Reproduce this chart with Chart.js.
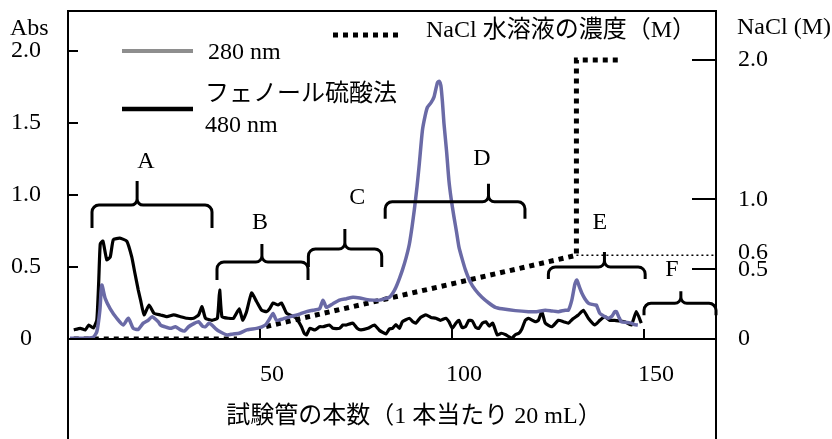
<!DOCTYPE html>
<html>
<head>
<meta charset="utf-8">
<script src="https://cdn.jsdelivr.net/npm/chart.js@4.4.1/dist/chart.umd.min.js"></script>
<style>
  html, body { margin: 0; padding: 0; background: #fff; }
  #wrap { width: 832px; height: 439px; }
</style>
</head>
<body>
<div id="wrap"><canvas id="c" width="832" height="439"></canvas></div>
<script>
// ---------------- DATA ----------------
// Absorbance at 280 nm (tube number, Abs)
const tube280 = [0.5, 3, 6.5, 7.5, 8.3, 8.8, 9.7, 11, 12.7, 14.4, 15.7, 17, 18.3, 19.6, 20.9, 21.9, 23.5, 24.1, 25.2, 26.7, 28, 29.3, 30.3, 31.4, 33, 34, 35, 35.8, 36.7, 37.5, 38.5, 39.6, 41.4, 43, 44.6, 46.6, 49.1, 50.5, 51.5, 52.6, 53.4, 54.3, 56, 58.6, 60.5, 62.1, 63.8, 65.5, 66.4, 67.3, 69, 70.7, 72.5, 74.2, 76, 77.6, 79.5, 81.1, 82.5, 83.7, 84.6, 85.4, 86.3, 87.1, 88, 88.9, 89.6, 90.2, 90.9, 91.5, 92.3, 93, 93.6, 94.5, 95.3, 96.2, 96.7, 97.1, 97.5, 97.9, 98.6, 99.2, 99.8, 100.5, 101.2, 101.8, 102.6, 103.5, 104.7, 106.1, 107.8, 109.6, 111.3, 113, 116.5, 119.9, 122, 124.3, 126, 127.7, 129.5, 130.3, 131.2, 132, 132.5, 133.2, 133.8, 134.6, 135.5, 136.5, 137.2, 137.6, 138.5, 139.5, 140.7, 141.7, 142.4, 142.8, 143.5, 144.1, 145.5, 146.7, 147.5, 148.4];
const abs280 = [0.005, 0.005, 0.012, 0.05, 0.2, 0.375, 0.28, 0.21, 0.144, 0.097, 0.144, 0.074, 0.067, 0.11, 0.13, 0.155, 0.12, 0.097, 0.085, 0.074, 0.085, 0.063, 0.055, 0.085, 0.11, 0.12, 0.09, 0.085, 0.11, 0.097, 0.07, 0.05, 0.028, 0.035, 0.04, 0.063, 0.074, 0.085, 0.1, 0.144, 0.178, 0.13, 0.14, 0.16, 0.175, 0.19, 0.2, 0.21, 0.27, 0.22, 0.245, 0.27, 0.28, 0.29, 0.285, 0.275, 0.27, 0.27, 0.28, 0.29, 0.32, 0.36, 0.42, 0.48, 0.56, 0.66, 0.78, 0.9, 1.06, 1.22, 1.45, 1.55, 1.61, 1.64, 1.68, 1.78, 1.79, 1.76, 1.65, 1.5, 1.3, 1.1, 0.97, 0.85, 0.74, 0.64, 0.56, 0.48, 0.4, 0.34, 0.29, 0.25, 0.22, 0.21, 0.197, 0.19, 0.19, 0.2, 0.195, 0.19, 0.2, 0.2, 0.27, 0.38, 0.41, 0.36, 0.32, 0.28, 0.25, 0.24, 0.236, 0.236, 0.178, 0.16, 0.144, 0.16, 0.19, 0.19, 0.15, 0.12, 0.115, 0.11, 0.1, 0.097];

// Phenol-sulfuric acid method, 480 nm (tube number, Abs)
const tube480 = [1.5, 3.2, 4.5, 5.4, 6.6, 7.5, 8, 8.4, 9.1, 10.1, 11, 11.8, 13.5, 15.3, 16.6, 17.4, 18.3, 18.9, 19.8, 21.1, 22.4, 24.1, 25.8, 27.5, 29.3, 31, 32.7, 34, 34.9, 35.8, 37.5, 38.9, 39.5, 40.1, 41.8, 43.1, 44.6, 45.5, 46.5, 47.8, 49.1, 50.4, 51.7, 52.5, 53.4, 54.7, 55.6, 56.9, 57.8, 59.5, 60.8, 61.5, 62.1, 63, 64.3, 65.5, 66.4, 68.1, 69, 70.7, 71.6, 72.5, 74.2, 75.3, 76.3, 78.1, 79.8, 81.1, 82.8, 83.7, 84.5, 85.4, 86.3, 87.1, 88.9, 89.8, 90.6, 91.8, 93.2, 94.5, 95.8, 97, 98.4, 99.2, 100.1, 101, 101.8, 102.6, 103.5, 104.4, 105.3, 106.2, 107, 107.9, 108.8, 109.7, 110.6, 111.8, 112.8, 114, 114.8, 115.6, 116.5, 117.4, 118.2, 119.1, 119.9, 121.7, 122.5, 123.4, 124.3, 126, 127.7, 129, 130.3, 131.5, 132.9, 134.2, 135.5, 137.2, 138.5, 139.8, 141, 142.4, 143.7, 145, 146.7, 148, 149.3];
const abs480 = [0.063, 0.074, 0.063, 0.097, 0.076, 0.13, 0.4, 0.66, 0.68, 0.55, 0.57, 0.69, 0.7, 0.68, 0.57, 0.46, 0.34, 0.27, 0.167, 0.236, 0.178, 0.167, 0.155, 0.167, 0.155, 0.144, 0.144, 0.167, 0.224, 0.144, 0.13, 0.144, 0.34, 0.155, 0.144, 0.144, 0.21, 0.13, 0.19, 0.32, 0.26, 0.2, 0.19, 0.21, 0.25, 0.236, 0.25, 0.18, 0.167, 0.144, 0.085, 0.04, 0.028, 0.074, 0.063, 0.085, 0.085, 0.097, 0.074, 0.074, 0.097, 0.097, 0.11, 0.074, 0.063, 0.074, 0.097, 0.06, 0.035, 0.07, 0.074, 0.1, 0.074, 0.12, 0.144, 0.12, 0.11, 0.15, 0.167, 0.15, 0.144, 0.13, 0.144, 0.12, 0.074, 0.11, 0.13, 0.08, 0.085, 0.13, 0.125, 0.08, 0.074, 0.11, 0.12, 0.09, 0.11, 0.028, 0.04, 0.03, 0.016, 0.005, 0.03, 0.04, 0.07, 0.13, 0.144, 0.12, 0.13, 0.19, 0.11, 0.085, 0.13, 0.12, 0.11, 0.14, 0.167, 0.2, 0.144, 0.097, 0.13, 0.155, 0.13, 0.13, 0.125, 0.12, 0.097, 0.19, 0.11];

// NaCl concentration (M) of the eluent (null = gap in the plotted line)
const naclTube = [1.5, 44, 48, 51.6, 132.4, 132.4, 144];
const naclConc = [0, 0, null, 0.09, 0.6, 2.0, 2.0];
// 0.6 M level guide
const naclGuideTube = [132.4, 168.75];
const naclGuideConc = [0.6, 0.6];

// Tick labels
const xTicks = [50, 100, 150];
const absTicks = [0, 0.5, 1.0, 1.5, 2.0];
const naclTicks = [0, 0.5, 1.0, 2.0];
const naclGuideLabel = '0.6';

// Texts
const seriesNames = ['280 nm', 'フェノール硫酸法 480 nm', 'NaCl 水溶液の濃度（M）'];
const xTitle = '試験管の本数（1 本当たり 20 mL）';
const yTitle = 'Abs';
const y2Title = 'NaCl (M)';

// Fractions (braces): name, start tube, end tube, tip tube, level (Abs), label position
const fracNames  = ['A', 'B', 'C', 'D', 'E', 'F'];
const fracStart  = [6.25, 38.8, 62.6, 82.6, 125.1, 150.0];
const fracEnd    = [37.5, 62.5, 81.7, 119.0, 150.3, 168.75];
const fracTip    = [18.0, 50.5, 72.1, 109.5, 139.7, 159.6];
const fracLevel  = [0.93, 0.535, 0.625, 0.953, 0.50, 0.248];
const fracLabelX = [20.3, 50.0, 75.3, 107.8, 138.5, 157.3];
const fracLabelY = [1.23, 0.81, 0.98, 1.25, 0.81, 0.48];

// ---------------- STYLE ----------------
const FONT = '"Liberation Serif", "Noto Sans CJK JP", serif';
const PURPLE = '#6a6aa6';
const toXY = (xs, ys) => xs.map((x, i) => ({ x: x, y: ys[i] }));

const braceDepth = [23, 18, 18, 17, 12, 12];
const braceTipH  = [24, 18, 20, 18, 15, 12];

function drawBrace(ctx, x1, x2, xt, y, d, h) {
  const r = 7, rt = 6;
  ctx.beginPath();
  ctx.moveTo(x1, y + d);
  ctx.arcTo(x1, y, x1 + r, y, r);
  ctx.lineTo(xt - rt, y);
  ctx.arcTo(xt, y, xt, y - rt, rt);
  ctx.lineTo(xt, y - h);
  ctx.moveTo(xt, y - h);
  ctx.lineTo(xt, y - rt);
  ctx.arcTo(xt, y, xt + rt, y, rt);
  ctx.lineTo(x2 - r, y);
  ctx.arcTo(x2, y, x2, y + r, r);
  ctx.lineTo(x2, y + d);
  ctx.stroke();
}

const noPad = s => { s.paddingTop = 0; s.paddingBottom = 0; s.paddingLeft = 0; s.paddingRight = 0; };

const overlay = {
  id: 'overlay',
  afterDraw(chart) {
    const { ctx, chartArea: ca, scales } = chart;
    const x = scales.x, y = scales.y, y2 = scales.y2;
    ctx.save();
    ctx.strokeStyle = '#000';
    ctx.fillStyle = '#000';
    ctx.lineCap = 'butt';

    // frame
    ctx.lineWidth = 2;
    ctx.beginPath();
    ctx.moveTo(ca.left, chart.height);
    ctx.lineTo(ca.left, ca.top);
    ctx.lineTo(ca.right, ca.top);
    ctx.lineTo(ca.right, chart.height);
    ctx.moveTo(ca.left, ca.bottom);
    ctx.lineTo(ca.right, ca.bottom);
    ctx.stroke();

    // inner tick marks
    ctx.beginPath();
    absTicks.forEach(v => {
      if (v === 0) return;
      const py = Math.round(y.getPixelForValue(v));
      ctx.moveTo(ca.left, py); ctx.lineTo(ca.left + 10, py);
    });
    naclTicks.forEach(v => {
      if (v === 0) return;
      const py = Math.round(y2.getPixelForValue(v));
      ctx.moveTo(ca.right - 24, py); ctx.lineTo(ca.right, py);
    });
    xTicks.forEach(v => {
      const px = Math.round(x.getPixelForValue(v));
      ctx.moveTo(px, ca.bottom); ctx.lineTo(px, ca.bottom - 10);
    });
    ctx.stroke();

    ctx.font = '24px ' + FONT;
    ctx.textBaseline = 'middle';

    // label of the 0.6 M guide line, beside the right axis
    ctx.textAlign = 'left';
    ctx.fillText(naclGuideLabel, ca.right + 22, y2.getPixelForValue(naclGuideConc[0]) - 3);

    // braces
    ctx.lineWidth = 3;
    ctx.textAlign = 'center';
    fracNames.forEach((n, i) => {
      const x1 = x.getPixelForValue(fracStart[i]);
      const x2 = Math.min(x.getPixelForValue(fracEnd[i]), ca.right);
      const xt = x.getPixelForValue(fracTip[i]);
      const py = y.getPixelForValue(fracLevel[i]);
      drawBrace(ctx, x1, x2, xt, py, braceDepth[i], braceTipH[i]);
      ctx.fillText(n, x.getPixelForValue(fracLabelX[i]), y.getPixelForValue(fracLabelY[i]));
    });

    // x-axis title
    ctx.fillText(xTitle, 414, 417);

    // legend
    ctx.textAlign = 'left';
    ctx.lineWidth = 4;
    ctx.strokeStyle = '#8e8e8e';
    ctx.beginPath(); ctx.moveTo(122, 51); ctx.lineTo(193, 51); ctx.stroke();
    ctx.strokeStyle = '#000';
    ctx.lineWidth = 4.5;
    ctx.beginPath(); ctx.moveTo(122, 109); ctx.lineTo(193, 109); ctx.stroke();
    ctx.lineWidth = 5;
    ctx.setLineDash([5, 5]);
    ctx.beginPath(); ctx.moveTo(333, 35); ctx.lineTo(403, 35); ctx.stroke();
    ctx.setLineDash([]);
    ctx.fillText(seriesNames[0], 208, 53);
    const parts = seriesNames[1].split(' ');
    ctx.fillText(parts[0], 205, 95);
    ctx.fillText(parts.slice(1).join(' '), 205, 126);
    ctx.fillText(seriesNames[2], 426, 31);

    // axis unit labels at the top
    ctx.fillText(yTitle, 10, 29);
    ctx.fillText(y2Title, 737, 28);
    ctx.restore();
  }
};

new Chart(document.getElementById('c'), {
  type: 'line',
  data: {
    datasets: [
      {
        label: seriesNames[0],
        data: toXY(tube280, abs280),
        yAxisID: 'y',
        borderColor: PURPLE,
        borderWidth: 3.5,
        pointRadius: 0,
        tension: 0.2,
        fill: false
      },
      {
        label: seriesNames[1],
        data: toXY(tube480, abs480),
        yAxisID: 'y',
        borderColor: '#000',
        borderWidth: 3.2,
        pointRadius: 0,
        tension: 0.15,
        fill: false
      },
      {
        label: seriesNames[2],
        data: toXY(naclTube, naclConc),
        yAxisID: 'y2',
        borderColor: '#000',
        borderWidth: 5,
        borderDash: [5, 5],
        borderCapStyle: 'butt',
        pointRadius: 0,
        tension: 0,
        spanGaps: false,
        fill: false
      },
      {
        label: '0.6 M',
        data: toXY(naclGuideTube, naclGuideConc),
        yAxisID: 'y2',
        borderColor: '#000',
        borderWidth: 1.5,
        borderDash: [2, 3],
        pointRadius: 0,
        tension: 0,
        fill: false
      }
    ]
  },
  options: {
    responsive: false,
    animation: false,
    events: [],
    layout: { padding: { top: 11, left: 0, right: 0, bottom: 0 } },
    plugins: { legend: { display: false }, tooltip: { enabled: false }, title: { display: false } },
    scales: {
      x: {
        type: 'linear',
        position: 'bottom',
        min: 0,
        max: 168.75,
        grid: { display: false, drawTicks: false },
        border: { display: false },
        afterBuildTicks: s => { s.ticks = xTicks.map(v => ({ value: v })); },
        afterFit: s => { s.height = 100; noPad(s); },
        ticks: {
          color: '#000',
          font: { family: FONT, size: 24 },
          padding: 21,
          labelOffset: 12,
          maxRotation: 0,
          autoSkip: false,
          callback: v => String(v)
        },
        title: { display: false, text: xTitle }
      },
      y: {
        type: 'linear',
        position: 'left',
        min: 0,
        max: 2.278,
        grid: { display: false, drawTicks: false },
        border: { display: false },
        afterBuildTicks: s => { s.ticks = absTicks.map(v => ({ value: v })); },
        afterFit: s => { s.width = 68; noPad(s); },
        ticks: {
          color: '#000',
          font: { family: FONT, size: 24 },
          padding: 27,
          crossAlign: 'center',
          autoSkip: false,
          callback: v => (v === 0 ? '0' : Number(v).toFixed(1))
        }
      },
      y2: {
        type: 'linear',
        position: 'right',
        min: 0,
        max: 2.351,
        grid: { display: false, drawTicks: false },
        border: { display: false },
        afterBuildTicks: s => { s.ticks = naclTicks.map(v => ({ value: v })); },
        afterFit: s => { s.width = 116; noPad(s); },
        ticks: {
          color: '#000',
          font: { family: FONT, size: 24 },
          padding: 22,
          crossAlign: 'near',
          autoSkip: false,
          callback: v => (v === 0 ? '0' : Number(v).toFixed(1))
        }
      }
    }
  },
  plugins: [overlay]
});
</script>
</body>
</html>
